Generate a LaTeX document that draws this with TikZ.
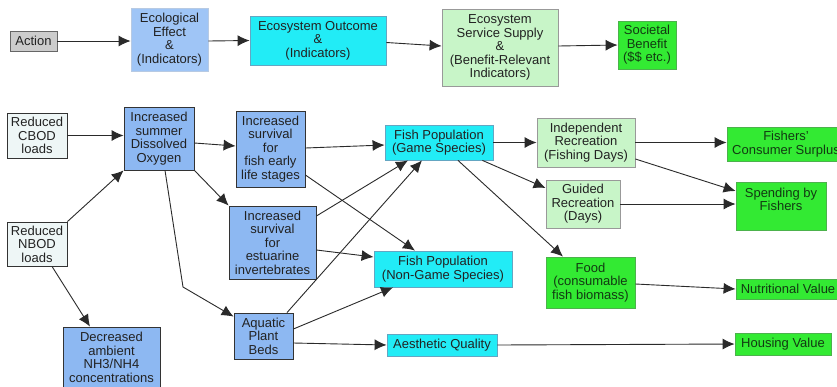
\documentclass[tikz,border=0pt]{standalone}
\usepackage{fontspec}
\setmainfont{Liberation Sans}
\usetikzlibrary{arrows.meta}
\definecolor{cgray}{HTML}{CCCCCC}
\definecolor{ctopblue}{HTML}{9FC5F6}
\definecolor{cblue}{HTML}{8DB8F2}
\definecolor{ccyan}{HTML}{22ECF6}
\definecolor{clgreen}{HTML}{C8F5C8}
\definecolor{cgreen}{HTML}{33EA33}
\definecolor{cpale}{HTML}{EEF6F6}
\definecolor{ctext}{HTML}{222222}
\definecolor{cgtext}{HTML}{123A12}
\definecolor{cline}{HTML}{2A2A2A}
\tikzset{
  box/.style={rectangle, inner sep=0pt, align=center, text=ctext,
    font=\fontsize{13pt}{13.5pt}\selectfont, line width=0.8pt},
  graybox/.style={box, fill=cgray, draw=black!60},
  topblue/.style={box, fill=ctopblue, draw=ctopblue!85!black!60},
  bluebox/.style={box, fill=cblue, draw=black!80},
  cyanbox/.style={box, fill=ccyan, draw=cyan!50!gray},
  lgreenbox/.style={box, fill=clgreen, draw=gray!80},
  greenbox/.style={box, fill=cgreen, draw=green!40!gray, text=cgtext},
  palebox/.style={box, fill=cpale, draw=black!80},
  arr/.style={draw=cline, line width=0.9pt, -{Latex[length=12pt,width=11pt]}}
}
\begin{document}
\begin{tikzpicture}[x=1pt, y=-1pt]
\useasboundingbox (0,0) rectangle (837,386);
\clip (0,0) rectangle (837,386);
\fill[white] (0,0) rectangle (837,386);
% top legend row
\node[graybox, minimum width=47pt, minimum height=20pt] (action) at (33.5,41) {Action};
\node[topblue, minimum width=77pt, minimum height=63pt] (eco) at (169.5,39.5) {Ecological\\Effect\\\&\\(Indicators)};
\node[cyanbox, minimum width=136pt, minimum height=49pt] (outc) at (318,40.5) {Ecosystem Outcome\\\&\\(Indicators)};
\node[lgreenbox, minimum width=116pt, minimum height=77pt] (serv) at (500,47.5) {Ecosystem\\Service Supply\\\&\\(Benefit-Relevant\\Indicators)};
\node[greenbox, minimum width=58pt, minimum height=48pt] (soc) at (647,45) {Societal\\Benefit\\(\$\$ etc.)};
% main diagram
\node[palebox, minimum width=60pt, minimum height=45pt] (cbod) at (37,135.5) {Reduced\\CBOD\\loads};
\node[palebox, minimum width=60pt, minimum height=44pt] (nbod) at (37,244) {Reduced\\NBOD\\loads};
\node[bluebox, minimum width=70pt, minimum height=63pt] (do) at (159,138.5) {Increased\\summer\\Dissolved\\Oxygen};
\node[bluebox, minimum width=97pt, minimum height=61pt] (nh3) at (111.5,357.5) {Decreased\\ambient\\NH3/NH4\\concentrations};
\node[bluebox, minimum width=69pt, minimum height=76pt] (fel) at (270.5,149) {Increased\\survival\\for\\fish early\\life stages};
\node[bluebox, minimum width=87pt, minimum height=73pt] (est) at (272.5,242.5) {Increased\\survival\\for\\estuarine\\invertebrates};
\node[bluebox, minimum width=59pt, minimum height=46pt] (apb) at (263.5,336) {Aquatic\\Plant\\Beds};
\node[cyanbox, minimum width=108pt, minimum height=35pt] (game) at (439,142.5) {Fish Population\\(Game Species)};
\node[cyanbox, minimum width=138pt, minimum height=36pt] (nong) at (443,269) {Fish Population\\(Non-Game Species)};
\node[cyanbox, minimum width=110pt, minimum height=22pt] (aest) at (442,345) {Aesthetic Quality};
\node[lgreenbox, minimum width=98pt, minimum height=49pt] (indep) at (586,142.5) {Independent\\Recreation\\(Fishing Days)};
\node[lgreenbox, minimum width=74pt, minimum height=48pt] (guided) at (583,204) {Guided\\Recreation\\(Days)};
\node[greenbox, minimum width=89pt, minimum height=51pt] (food) at (590.5,282.5) {Food\\(consumable\\fish biomass)};
\node[greenbox, minimum width=118pt, minimum height=34pt] (fcs) at (786,144) {Fishers'\\Consumer Surplus};
\node[greenbox, minimum width=90pt, minimum height=48pt] (spend) at (781,206) {Spending by\\Fishers\\\mbox{}};
\node[greenbox, minimum width=104pt, minimum height=20pt] (nutr) at (788,289) {Nutritional Value};
\node[greenbox, minimum width=96pt, minimum height=22pt] (housing) at (783,344) {Housing Value};
\coordinate (bend) at (183,287);
% top arrows
\draw[arr] (action.east) -- (action.east -| eco.west);
\draw[arr] ([yshift=-1.5pt]eco.east) -- (outc.west);
\draw[arr] ([yshift=-2pt]outc.east) -- ([yshift=1.5pt]serv.west);
\draw[arr] ([yshift=1.5pt]serv.east) -- (soc.west);
% main arrows
\draw[arr] (cbod.east) -- (cbod.east -| do.west);
\draw[arr] (nbod.north east) -- (do.south west);
\draw[arr] ([xshift=15pt]nbod.south) -- ([xshift=-21.5pt]nh3.north);
\draw[arr] ([yshift=-4.5pt]do.east) -- ([yshift=3pt]fel.west);
\draw[arr] (do.south east) -- (est.north west);
\draw[arr] ([xshift=6pt]do.south) -- (bend) -- ([yshift=-4pt]apb.north west);
\draw[arr] ([yshift=1pt]fel.east) -- ([yshift=-2.5pt]game.west);
\draw[arr] ([yshift=-26pt]fel.east) -- ([xshift=-28pt]nong.north);
\draw[arr] ([yshift=26.5pt]est.east) -- ([xshift=-31pt]game.south);
\draw[arr] ([yshift=-7.5pt]est.east) -- ([yshift=12pt]nong.west);
\draw[arr] ([xshift=23.5pt]apb.north) -- ([xshift=-17pt]game.south);
\draw[arr] ([yshift=7pt]apb.east) -- ([xshift=-50pt]nong.south);
\draw[arr] ([yshift=-7pt]apb.east) -- (aest.west);
\draw[arr] (game.east) -- (indep.west);
\draw[arr] ([xshift=-11pt]game.south east) -- ([yshift=16pt]guided.west);
\draw[arr] ([xshift=19pt]game.south) -- ([xshift=-27.5pt]food.north);
\draw[arr] (indep.east) -- (indep.east -| fcs.west);
\draw[arr] ([yshift=-16.5pt]indep.east) -- ([yshift=15pt]spend.west);
\draw[arr] (guided.east) -- (guided.east -| spend.west);
\draw[arr] ([yshift=-1.5pt]food.east) -- (nutr.west);
\draw[arr] (aest.east) -- (housing.west);
\end{tikzpicture}
\end{document}
